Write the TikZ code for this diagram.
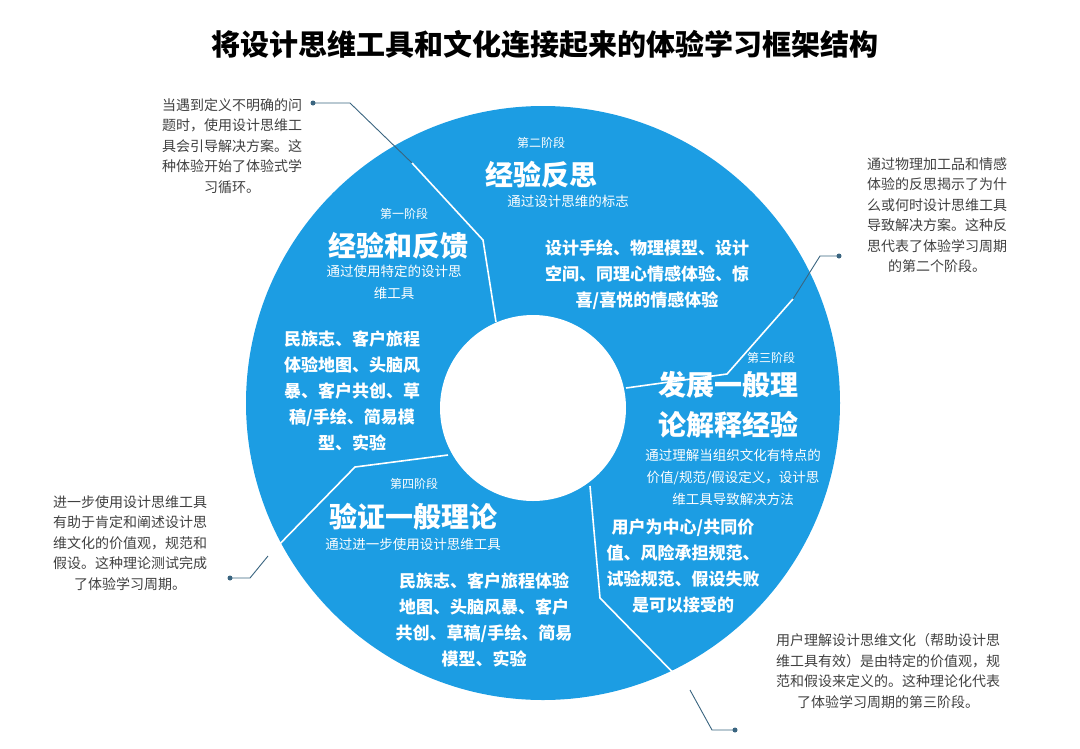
\documentclass[tikz,border=0pt]{standalone}
\usepackage{fontspec}
\setmainfont{Noto Sans CJK SC}
\definecolor{ringBlue}{HTML}{1C9DE3}
\definecolor{leadGrey}{HTML}{3A6580}
\tikzset{
  stagelab/.style={text=white, font=\fontsize{12}{14}\selectfont},
  heading/.style={text=white, font=\bfseries\fontsize{28}{40}\selectfont, align=center},
  subline/.style={text=white, font=\fontsize{13.5}{22}\selectfont, align=center},
  bodytext/.style={text=white, font=\bfseries\fontsize{17}{26}\selectfont, align=center},
  callout/.style={text=black!75, font=\fontsize{14}{20.5}\selectfont, align=center},
  divider/.style={white, line width=1.6pt},
  leader/.style={leadGrey, line width=0.9pt},
  leaddot/.style={fill=leadGrey, circle, inner sep=0pt, minimum size=5pt}
}
\begin{document}
\begin{tikzpicture}[x=1pt,y=-1pt]
        \useasboundingbox (0,0) rectangle (1080,748);

        % title
        \node (title) at (545,45) {\bfseries\fontsize{29}{34}\selectfont 将设计思维工具和文化连接起来的体验学习框架结构};

        % ring
        \fill[ringBlue] (543,403) circle (297);
        \fill[white] (533,408) circle (93);

        % dividers and leaders
        \coordinate (dotA) at (313,103);
        \coordinate (dotB) at (839,256);
        \coordinate (dotC) at (735,730);
        \coordinate (dotD) at (230,578);
        \draw[divider] (496,322) -- (483,240) -- (412,163);
        \draw[leader] (dotA) -- (350,103) -- (412,163);
        \draw[divider] (626,388) -- (727,374) -- (793,299);
        \draw[leader] (793,299) -- (820,256) -- (dotB);
        \draw[divider] (590,486) -- (600,598) -- (690,690);
        \draw[leader] (690,690) -- (712,730) -- (dotC);
        \draw[divider] (448,455) -- (355,467) -- (268,556);
        \draw[leader] (268,556) -- (250,578) -- (dotD);
        \foreach \d in {dotA,dotB,dotC,dotD}
            \node[leaddot] at (\d) {};

        % stage two
        \node[stagelab] (s2) at (541,143) {第二阶段};
        \node[heading] (h2) at (541,175) {经验反思};
        \node[subline] (u2) at (568,201) {通过设计思维的标志};
        \node[bodytext] (b2) at (647,275) {设计手绘、物理模型、设计\\空间、同理心情感体验、惊\\喜/喜悦的情感体验};

        % stage one
        \node[stagelab] (s1) at (404,214) {第一阶段};
        \node[heading] (h1) at (398,246) {经验和反馈};
        \node[subline] (u1) at (394,282) {通过使用特定的设计思\\维工具};
        \node[bodytext] (b1) at (352,391) {民族志、客户旅程\\体验地图、头脑风\\暴、客户共创、草\\稿/手绘、简易模\\型、实验};

        % stage three
        \node[stagelab] (s3) at (771,358) {第三阶段};
        \node[heading] (h3) at (728,405) {发展一般理\\论解释经验};
        \node[subline] (u3) at (733,477) {通过理解当组织文化有特点的\\价值/规范/假设定义，设计思\\维工具导致解决方法};
        \node[bodytext] (b3) at (683,566) {用户为中心/共同价\\值、风险承担规范、\\试验规范、假设失败\\是可以接受的};

        % stage four
        \node[stagelab] (s4) at (414,484) {第四阶段};
        \node[heading] (h4) at (413,517) {验证一般理论};
        \node[subline] (u4) at (413,544) {通过进一步使用设计思维工具};
        \node[bodytext] (b4) at (484,620) {民族志、客户旅程体验\\地图、头脑风暴、客户\\共创、草稿/手绘、简易\\模型、实验};

        % callouts
        \node[callout] (cA) at (232,146) {当遇到定义不明确的问\\题时，使用设计思维工\\具会引导解决方案。这\\种体验开始了体验式学\\习循环。};
        \node[callout] (cB) at (937,215) {通过物理加工品和情感\\体验的反思揭示了为什\\么或何时设计思维工具\\导致解决方案。这种反\\思代表了体验学习周期\\的第二个阶段。};
        \node[callout] (cD) at (130,543) {进一步使用设计思维工具\\有助于肯定和阐述设计思\\维文化的价值观，规范和\\假设。这种理论测试完成\\了体验学习周期。};
        \node[callout] (cC) at (888,671) {用户理解设计思维文化（帮助设计思\\维工具有效）是由特定的价值观，规\\范和假设来定义的。这种理论化代表\\了体验学习周期的第三阶段。};
\end{tikzpicture}
\end{document}
